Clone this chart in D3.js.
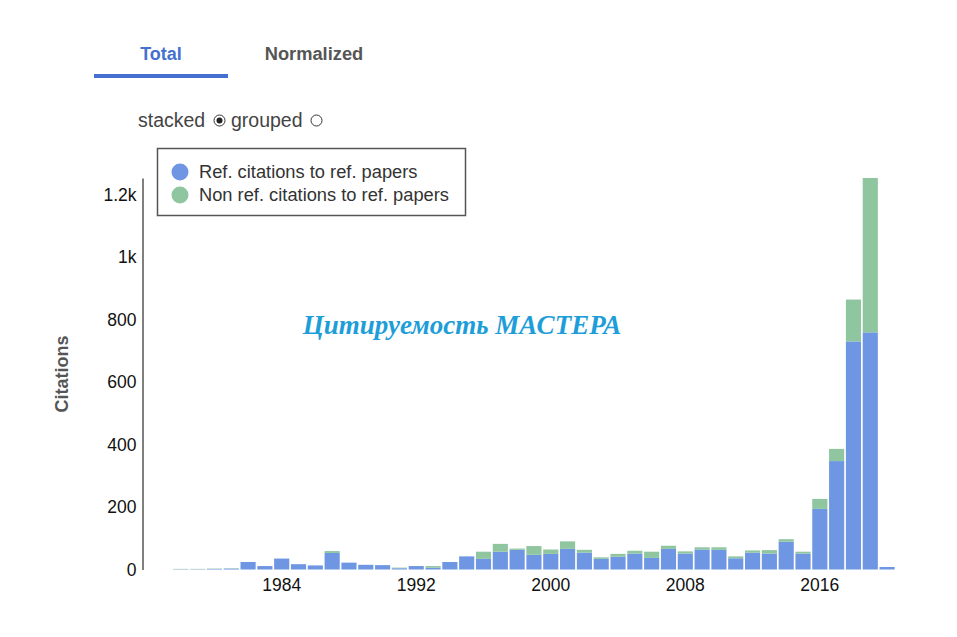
<!DOCTYPE html>
<html>
<head>
<meta charset="utf-8">
<script src="https://cdn.jsdelivr.net/npm/d3@7/dist/d3.min.js"></script>
<style>
  html, body { margin: 0; padding: 0; background: #fff; }
  svg { display: block; font-family: "Liberation Sans", Arial, sans-serif; }
</style>
</head>
<body>
<svg id="chart" width="957" height="637"></svg>
<script>
const years = d3.range(1978, 2021);
const refCitations = [1,1,2,3,24,11,35,17,13,53,22,15,14,4,11,6,24,42,34,57,63,47,50,66,54,34,41,51,37,66,51,64,63,36,54,51,89,51,194,347,730,759,8];
const nonRefCitations = [1,1,1,1,0,0,0,0,0,6,0,0,0,2,0,5,0,0,23,25,4,28,14,24,9,5,9,9,20,10,7,7,8,6,7,11,8,6,32,39,134,494,0];
const seriesNames = ["Ref. citations to ref. papers", "Non ref. citations to ref. papers"];
const seriesColors = ["#6f96e3", "#8fc59f"];
const xTickYears = [1984, 1992, 2000, 2008, 2016];
const yTickValues = [0, 200, 400, 600, 800, 1000, 1200];
const titleText = "Цитируемость МАСТЕРА";

const svg = d3.select("#chart");

// Tabs
svg.append("text").attr("x", 161).attr("y", 60).attr("text-anchor", "middle")
  .attr("font-size", 18).attr("font-weight", "bold").attr("fill", "#4470cf").text("Total");
svg.append("text").attr("x", 314).attr("y", 60).attr("text-anchor", "middle")
  .attr("font-size", 18.3).attr("font-weight", "bold").attr("fill", "#555").text("Normalized");
svg.append("rect").attr("x", 94).attr("y", 74).attr("width", 134).attr("height", 4).attr("fill", "#4470cf");

// Radio
svg.append("text").attr("x", 138).attr("y", 127).attr("font-size", 19.5).attr("fill", "#444").text("stacked");
svg.append("circle").attr("cx", 219.5).attr("cy", 120.5).attr("r", 5.5).attr("fill", "#fff").attr("stroke", "#333").attr("stroke-width", 1);
svg.append("circle").attr("cx", 219.5).attr("cy", 120.5).attr("r", 3).attr("fill", "#222");
svg.append("text").attr("x", 231).attr("y", 127).attr("font-size", 19.5).attr("fill", "#444").text("grouped");
svg.append("circle").attr("cx", 316.5).attr("cy", 120.5).attr("r", 5.5).attr("fill", "#fff").attr("stroke", "#333").attr("stroke-width", 1);

// Data
const data = years.map((y, i) => ({ year: y, ref: refCitations[i], nonref: nonRefCitations[i] }));
const stack = d3.stack().keys(["ref", "nonref"]);
const stacked = stack(data);

const x = d3.scaleBand().domain(years).range([172.4, 895.5]).paddingInner(0.1).paddingOuter(0.05);
const maxTotal = d3.max(data, d => d.ref + d.nonref);
const y = d3.scaleLinear().domain([0, maxTotal]).range([569.5, 178]);

// Bars
svg.append("g").selectAll("g").data(stacked).join("g")
  .attr("fill", (d, i) => seriesColors[i])
  .selectAll("rect").data(d => d).join("rect")
  .attr("x", d => x(d.data.year))
  .attr("width", x.bandwidth())
  .attr("y", d => y(d[1]))
  .attr("height", d => Math.max(0, y(d[0]) - y(d[1])));

// Y axis
const yAxis = d3.axisLeft(y).tickValues(yTickValues).tickSize(0).tickPadding(6).tickFormat(d3.format("~s"));
const gy = svg.append("g").attr("transform", "translate(142.5,0)").call(yAxis);
gy.select(".domain").attr("stroke", "#000").attr("stroke-width", 1);
gy.selectAll("text").attr("font-size", 17.5).attr("fill", "#111").attr("font-family", "'Liberation Sans', Arial, sans-serif");

// X axis
const xAxis = d3.axisBottom(x).tickValues(xTickYears).tickSize(0).tickPadding(9);
const gx = svg.append("g").attr("transform", "translate(0,569.5)").call(xAxis);
gx.select(".domain").remove();
gx.selectAll("text").attr("font-size", 17.5).attr("fill", "#111").attr("font-family", "'Liberation Sans', Arial, sans-serif");

// Y label
svg.append("text").attr("transform", "translate(68,374) rotate(-90)").attr("text-anchor", "middle")
  .attr("font-size", 18).attr("font-weight", "bold").attr("fill", "#555").text("Citations");

// Legend
svg.append("rect").attr("x", 157.5).attr("y", 148.5).attr("width", 308).attr("height", 67)
  .attr("fill", "#fff").attr("stroke", "#555").attr("stroke-width", 1.5);
const leg = svg.append("g").selectAll("g").data(seriesNames).join("g")
  .attr("transform", (d, i) => `translate(180,${172 + i * 23})`);
leg.append("circle").attr("r", 8.5).attr("fill", (d, i) => seriesColors[i]);
leg.append("text").attr("x", 19).attr("y", 6).attr("font-size", 18.3).attr("fill", "#333").text(d => d);

// Title
svg.append("text").attr("x", 462).attr("y", 334).attr("text-anchor", "middle")
  .attr("font-family", "'Liberation Serif', 'Times New Roman', serif")
  .attr("font-style", "italic").attr("font-weight", "bold").attr("font-size", 27)
  .attr("fill", "#1e9ed8").text(titleText);
</script>
</body>
</html>
